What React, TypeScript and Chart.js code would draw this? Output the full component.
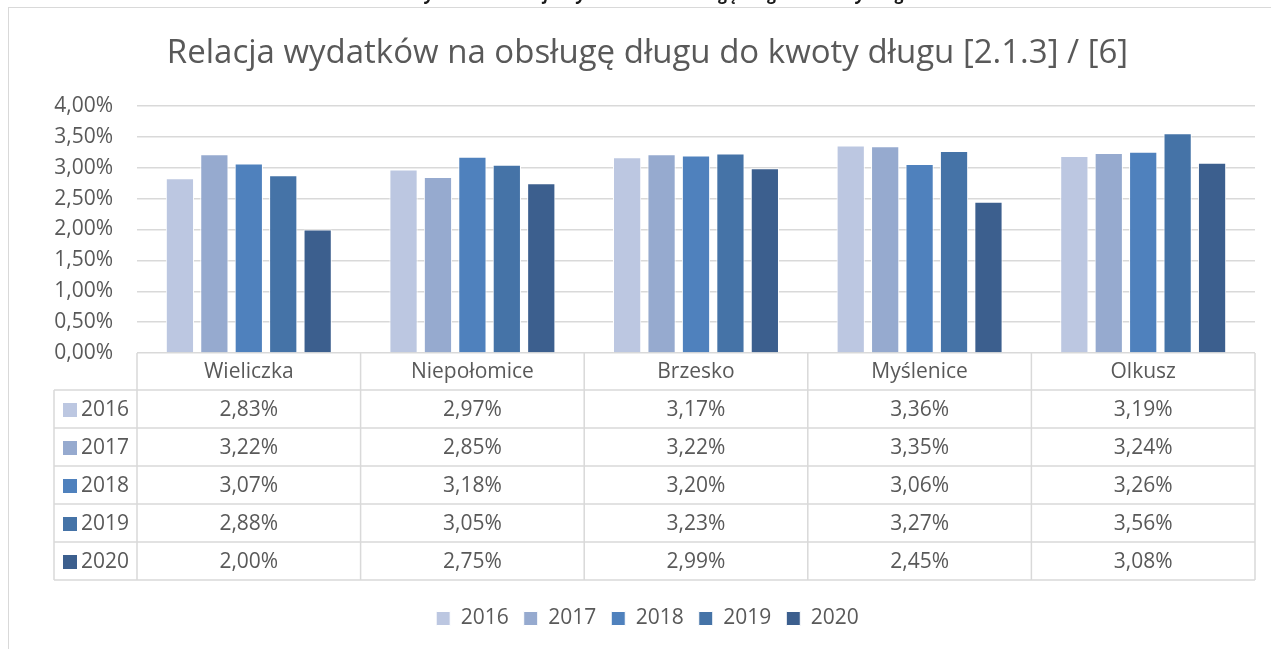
import React, { useEffect, useRef } from "react";
import { Chart, registerables } from "chart.js";

Chart.register(...registerables);

const categories = ["Wieliczka", "Niepołomice", "Brzesko", "Myślenice", "Olkusz"];
const years = ["2016", "2017", "2018", "2019", "2020"];
const values2016 = [2.83, 2.97, 3.17, 3.36, 3.19];
const values2017 = [3.22, 2.85, 3.22, 3.35, 3.24];
const values2018 = [3.07, 3.18, 3.2, 3.06, 3.26];
const values2019 = [2.88, 3.05, 3.23, 3.27, 3.56];
const values2020 = [2.0, 2.75, 2.99, 2.45, 3.08];
const series = [values2016, values2017, values2018, values2019, values2020];
const colors = ["#BCC7E1", "#96AACF", "#4F81BD", "#4573A7", "#3C5F8E"];
const yTicks = [0, 0.5, 1, 1.5, 2, 2.5, 3, 3.5, 4];

const titleText = "Relacja wydatków na obsługę długu do kwoty długu [2.1.3] / [6]";
const captionText = "Wykres 11. Relacja wydatków na obsługę długu do kwoty długu";

const FONT = "'Open Sans', 'Noto Sans', sans-serif";
const TEXT = "#595959";
const LINE = "#d9d9d9";
const FS = 21;

const fmt = (v: number) => v.toFixed(2).replace(".", ",") + "%";

const HEADER_H = 37;
const ROW_H = 38;

const tablePlugin = {
  id: "dataTable",
  beforeDraw(chart: any) {
    const { ctx } = chart;
    ctx.save();
    ctx.strokeStyle = LINE;
    ctx.lineWidth = 1;
    ctx.strokeRect(8.5, 7.5, 1400, 800);
    ctx.restore();
  },
  afterDraw(chart: any) {
    const { ctx, chartArea } = chart;
    const x = chart.scales.x;
    const n = categories.length;
    const top = chartArea.bottom;
    const headerBottom = top + HEADER_H;
    const bottom = headerBottom + ROW_H * years.length;
    const bounds: number[] = [];
    for (let i = 0; i <= n; i++) bounds.push(x.getPixelForValue(i - 0.5));
    const leftCol = 54;

    ctx.save();
    ctx.strokeStyle = LINE;
    ctx.lineWidth = 1.5;
    ctx.beginPath();
    bounds.forEach((bx) => {
      ctx.moveTo(bx, top);
      ctx.lineTo(bx, bottom);
    });
    ctx.moveTo(leftCol, headerBottom);
    ctx.lineTo(leftCol, bottom);
    for (let r = 0; r <= years.length; r++) {
      const yy = headerBottom + r * ROW_H;
      ctx.moveTo(leftCol, yy);
      ctx.lineTo(bounds[n], yy);
    }
    ctx.stroke();

    ctx.fillStyle = TEXT;
    ctx.font = `${FS}px ${FONT}`;
    ctx.textBaseline = "middle";
    ctx.textAlign = "center";
    categories.forEach((c, i) => {
      ctx.fillText(c, (bounds[i] + bounds[i + 1]) / 2, top + HEADER_H / 2 + 1);
    });
    years.forEach((yr, r) => {
      const cy = headerBottom + r * ROW_H + ROW_H / 2 + 1;
      ctx.fillStyle = colors[r];
      ctx.fillRect(63, cy - 7, 14, 14);
      ctx.fillStyle = TEXT;
      ctx.textAlign = "left";
      ctx.fillText(yr, 81, cy);
      ctx.textAlign = "center";
      series[r].forEach((v, i) => {
        ctx.fillText(fmt(v), (bounds[i] + bounds[i + 1]) / 2, cy);
      });
    });
    ctx.restore();
  },
};

export default function App() {
  const ref = useRef<HTMLCanvasElement | null>(null);
  useEffect(() => {
    if (!ref.current) return;
    const chart = new Chart(ref.current, {
      type: "bar",
      data: {
        labels: categories,
        datasets: years.map((y, i) => ({
          label: y,
          data: series[i],
          backgroundColor: colors[i],
          borderColor: "#ffffff",
          borderWidth: 1,
          barPercentage: 0.82,
          categoryPercentage: 0.77,
        })),
      },
      options: {
        responsive: false,
        animation: false,
        layout: { padding: { left: 40, right: 16, top: 0, bottom: 10 } },
        plugins: {
          title: {
            display: true,
            text: titleText,
            color: TEXT,
            font: { family: FONT, size: 33, weight: "normal", lineHeight: 1.2 },
            padding: { top: 34, bottom: 32.4 },
          },
          legend: {
            position: "bottom",
            labels: {
              color: TEXT,
              font: { family: FONT, size: FS },
              boxWidth: 14,
              boxHeight: 14,
              padding: 15,
            },
          },
          tooltip: { enabled: false },
        },
        scales: {
          x: {
            grid: { display: false },
            border: { display: false },
            ticks: { display: false },
            afterFit: (s: any) => {
              s.height = 240;
            },
          },
          y: {
            min: 0,
            max: 4,
            afterBuildTicks: (s: any) => {
              s.ticks = yTicks.map((v) => ({ value: v }));
            },
            ticks: {
              callback: (v: any) => fmt(Number(v)),
              color: TEXT,
              font: { family: FONT, size: FS },
              padding: 24,
            },
            grid: { color: LINE, lineWidth: 1.5, drawTicks: false },
            border: { display: false },
            afterFit: (s: any) => {
              s.width = 97;
            },
          },
        },
      },
      plugins: [tablePlugin],
    });
    return () => chart.destroy();
  }, []);

  return (
    <div style={{ position: "absolute", left: 0, top: 0, width: 1271, height: 649, overflow: "hidden", background: "#fff" }}>
      <div
        style={{
          position: "absolute",
          left: 27,
          top: -16,
          width: 1271,
          textAlign: "center",
          fontFamily: FONT,
          fontWeight: "bold",
          fontStyle: "italic",
          fontSize: 17,
          lineHeight: "20px",
          color: "#1a1a1a",
          whiteSpace: "nowrap",
        }}
      >
        {captionText}
      </div>
      <canvas ref={ref} width={1271} height={649} style={{ display: "block", width: 1271, height: 649 }} />
    </div>
  );
}
